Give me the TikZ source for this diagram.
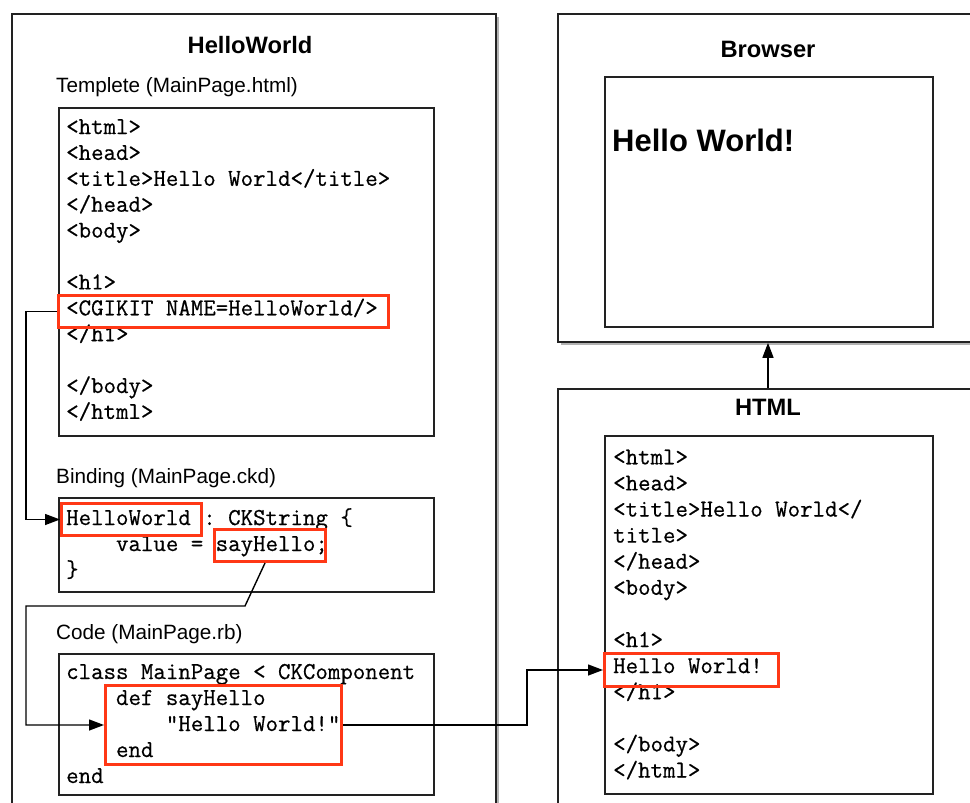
\documentclass[tikz,border=0pt]{standalone}
\usepackage{fontspec}
\setsansfont{Liberation Sans}
\setmonofont{Latin Modern Mono}[FakeBold=0.6]
\usetikzlibrary{arrows.meta,shadows}
\definecolor{hilite}{RGB}{255,56,22}
\definecolor{edge}{RGB}{34,34,34}
\begin{document}
\begin{tikzpicture}[x=1pt,y=-1pt,
  panel/.style={draw=edge,line width=1.8pt,fill=white,anchor=north west,inner sep=0pt},
  shadowed/.style={panel,drop shadow={shadow xshift=3pt,shadow yshift=-3pt,fill=black,opacity=0.3}},
  hlbox/.style={draw=hilite,line width=3pt,anchor=north west,inner sep=0pt},
  code/.style={font=\fontsize{24.2}{26}\selectfont\ttfamily,anchor=base west,inner sep=0pt},
  seclabel/.style={font=\fontsize{20.7}{24}\selectfont\sffamily,anchor=base west,inner sep=0pt},
  headline/.style={font=\fontsize{23.7}{28}\selectfont\sffamily\bfseries,anchor=base,inner sep=0pt},
  conn/.style={draw=black,line width=1.4pt,-{Triangle[length=15pt,width=11pt]}},
]
\useasboundingbox (0,0) rectangle (970,803);

% outer panels
\node[shadowed,minimum width=484,minimum height=810] (hw) at (11,13) {};
\node[shadowed,minimum width=430,minimum height=328] (browser) at (557,13) {};
\node[shadowed,minimum width=430,minimum height=430] (html) at (557,388) {};

% inner boxes
\node[panel,minimum width=375,minimum height=328] (tplbox) at (58,107) {};
\node[panel,minimum width=375,minimum height=94] (bindbox) at (58,497) {};
\node[panel,minimum width=375,minimum height=141] (codebox) at (58,653) {};
\node[panel,minimum width=328,minimum height=250] (view) at (604,76) {};
\node[panel,minimum width=328,minimum height=358] (srcbox) at (604,435) {};

% titles and section labels
\node[headline] (hwtitle) at (250,53.7) {HelloWorld};
\node[headline] (brtitle) at (768,57) {Browser};
\node[headline] (htmltitle) at (768,415.3) {HTML};
\node[seclabel] (tpllabel) at (56,92) {Templete (MainPage.html)};
\node[seclabel] (bindlabel) at (56,483) {Binding (MainPage.ckd)};
\node[seclabel] (codelabel) at (56,639) {Code (MainPage.rb)};
\node[font=\fontsize{31}{36}\selectfont\sffamily\bfseries,anchor=base west,inner sep=0pt] (bhello) at (612,151.5) {Hello World!};

% template source
\node[code] (t1) at (66,134) {<html>};
\node[code] (t2) at (66,159.9) {<head>};
\node[code] (t3) at (66,185.8) {<title>Hello World</title>};
\node[code] (t4) at (66,211.7) {</head>};
\node[code] (t5) at (66,237.6) {<body>};
\node[code] (t6) at (66,289.4) {<h1>};
\node[code] (t7) at (66,315.3) {<CGIKIT NAME=HelloWorld/>};
\node[code] (t8) at (66,341.2) {</h1>};
\node[code] (t9) at (66,393) {</body>};
\node[code] (t10) at (66,418.9) {</html>};

% binding source
\node[code] (b1) at (66,525) {HelloWorld : CKString \{};
\node[code] (b2) at (66,551) {\hphantom{0000}value = sayHello;};
\node[code] (b3) at (66,577) {\}};

% ruby source
\node[code] (r1) at (66,679) {class MainPage < CKComponent};
\node[code] (r2) at (66,705) {\hphantom{0000}def sayHello};
\node[code] (r3) at (66,731) {\hphantom{00000000}"Hello World!"};
\node[code] (r4) at (66,757) {\hphantom{0000}end};
\node[code] (r5) at (66,783) {end};

% generated html
\node[code] (h1) at (613,464.3) {<html>};
\node[code] (h2) at (613,490.4) {<head>};
\node[code] (h3) at (613,516.5) {<title>Hello World</};
\node[code] (h4) at (613,542.6) {title>};
\node[code] (h5) at (613,568.7) {</head>};
\node[code] (h6) at (613,594.8) {<body>};
\node[code] (h7) at (613,647) {<h1>};
\node[code] (h8) at (613,673.1) {Hello World!};
\node[code] (h9) at (613,699.2) {</h1>};
\node[code] (h10) at (613,751.4) {</body>};
\node[code] (h11) at (613,777.5) {</html>};

% highlighted fragments
\node[hlbox,minimum width=330,minimum height=32] (cgi) at (57,294) {};
\node[hlbox,minimum width=140,minimum height=32] (hwbind) at (60,502) {};
\node[hlbox,minimum width=111,minimum height=32] (say) at (213,528) {};
\node[hlbox,minimum width=236,minimum height=79] (defbox) at (104,684) {};
\node[hlbox,minimum width=174,minimum height=33] (hwhtml) at (603,652) {};

% connectors
\coordinate (c1) at (26,310);
\coordinate (c2) at (245,606);
\coordinate (c3) at (527,700);
\draw[conn] (cgi.west) -- (cgi.west -| c1) |- (hwbind.west);
\draw[conn] ([xshift=-5pt]say.south) -- (c2) -- (c2 -| c1) |- (defbox.west);
\draw[conn] (defbox.east) -| (c3) |- (hwhtml.west);
\draw[conn] (htmltitle |- html.north) -- (htmltitle |- browser.south);
\end{tikzpicture}
\end{document}
